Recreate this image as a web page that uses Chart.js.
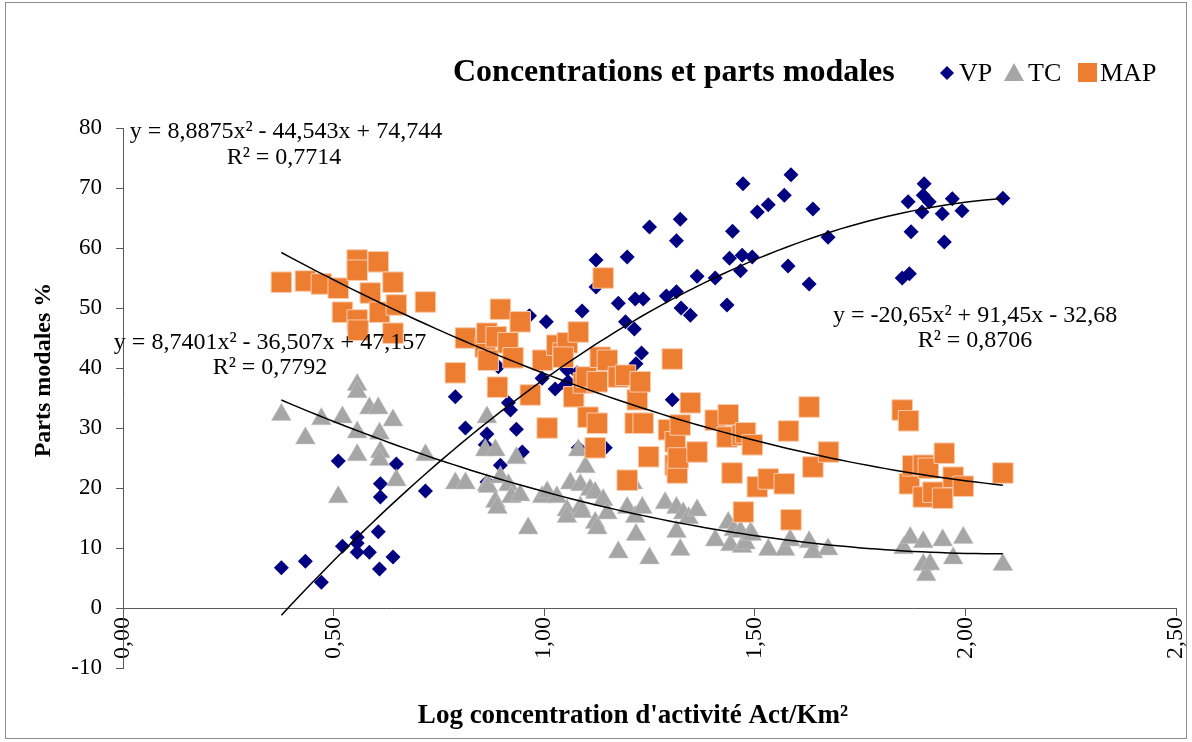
<!DOCTYPE html>
<html>
<head>
<meta charset="utf-8">
<title>Concentrations et parts modales</title>
<script src="https://cdn.jsdelivr.net/npm/chart.js@4.4.1/dist/chart.umd.min.js"></script>
<style>
  body { margin: 0; background: #fff; }
  #wrap { width: 1192px; height: 742px; }
</style>
</head>
<body>
<div id="wrap"><canvas id="chart" width="1192" height="742"></canvas></div>
<script>
// log concentration (x) and modal share in % (y)
const vpX = [0.376, 0.433, 0.471, 0.521, 0.511, 0.556, 0.556, 0.556, 0.585, 0.606, 0.609, 0.641, 0.611, 0.611, 0.649, 0.718,
  0.789, 0.813, 0.864, 0.860, 0.864, 0.896, 0.891, 0.915, 0.920, 0.934, 0.948, 0.965, 0.995, 1.005, 1.026, 1.050,
  1.054, 1.057, 1.078, 1.081, 1.090, 1.110, 1.123, 1.123, 1.140, 1.145, 1.176, 1.193, 1.197, 1.214, 1.216, 1.218,
  1.231, 1.235, 1.250, 1.290, 1.304, 1.314, 1.314, 1.323, 1.325, 1.347, 1.363, 1.406, 1.434, 1.440, 1.447, 1.466,
  1.470, 1.472, 1.494, 1.506, 1.532, 1.570, 1.579, 1.586, 1.629, 1.638, 1.674, 1.850, 1.867, 1.864, 1.871, 1.897,
  1.900, 1.902, 1.914, 1.945, 1.950, 1.969, 1.992, 2.089];
const vpY = [6.7, 7.8, 4.3, 10.3, 24.5, 11.8, 10.8, 9.3, 9.3, 12.7, 6.5, 8.5, 20.7, 18.5, 24, 19.5,
  35.2, 30, 29, 27.2, 21, 23.8, 40.2, 34.2, 33, 29.8, 26, 48.7, 38.3, 47.7, 36.5, 37.2,
  39.7, 37.7, 39.2, 26.7, 49.5, 38.5, 53.5, 58, 38.8, 26.7, 50.8, 47.7, 58.5, 46.5, 51.5, 40.7,
  42.5, 51.5, 63.5, 52, 34.7, 52.7, 61.2, 64.8, 50, 48.8, 55.3, 55, 50.5, 58.3, 62.8, 56.2,
  58.8, 70.7, 58.5, 66, 67.2, 68.8, 57, 72.2, 54, 66.5, 61.8, 55, 55.7, 67.7, 62.7, 66,
  68.8, 70.7, 67.7, 65.7, 61, 68.2, 66.2, 68.3];

const tcX = [0.376, 0.433, 0.471, 0.511, 0.521, 0.556, 0.556, 0.556, 0.556, 0.585, 0.606, 0.609, 0.611, 0.609, 0.641, 0.649,
  0.718, 0.789, 0.813, 0.860, 0.864, 0.864, 0.867, 0.884, 0.884, 0.889, 0.896, 0.915, 0.922, 0.934, 0.943, 0.962,
  0.995, 1.007, 1.030, 1.054, 1.054, 1.062, 1.081, 1.086, 1.086, 1.090, 1.098, 1.109, 1.121, 1.121, 1.126, 1.140,
  1.150, 1.176, 1.197, 1.210, 1.216, 1.218, 1.233, 1.250, 1.287, 1.314, 1.314, 1.316, 1.323, 1.330, 1.343, 1.363,
  1.406, 1.437, 1.442, 1.450, 1.466, 1.470, 1.478, 1.490, 1.493, 1.532, 1.572, 1.584, 1.629, 1.638, 1.674, 1.853,
  1.869, 1.900, 1.900, 1.907, 1.916, 1.946, 1.971, 1.995, 2.089];
const tcY = [32.2, 28.3, 31.5, 18.5, 31.8, 37.2, 36, 29.3, 25.5, 33.3, 33.3, 29.1, 26, 24.7, 31.3, 21.3,
  25.5, 20.8, 20.8, 26.3, 31.8, 20.5, 20.2, 26.3, 17.7, 16.7, 21.8, 20.5, 18.5, 25, 18.8, 13.3,
  18.5, 19.3, 18.5, 16.3, 15.2, 20.8, 26.3, 20.5, 16.8, 16, 23.5, 19.7, 19.2, 14.2, 13.3, 18,
  15.8, 9.3, 16.7, 20.8, 15.2, 12.2, 16.7, 8.3, 17.5, 16.7, 12.7, 23, 9.7, 15.8, 15, 16.3,
  11.3, 14.2, 10.5, 13, 12.7, 10.2, 10.8, 12.5, 12.2, 9.7, 9.7, 11.3, 11, 9.3, 9.8, 10,
  11.7, 11, 7.2, 5.5, 7.3, 11.3, 8.3, 11.7, 7.2];

const mapX = [0.376, 0.433, 0.471, 0.511, 0.521, 0.556, 0.556, 0.556, 0.558, 0.587, 0.606, 0.609, 0.641, 0.641, 0.649, 0.718,
  0.789, 0.813, 0.860, 0.864, 0.867, 0.886, 0.889, 0.896, 0.914, 0.926, 0.943, 0.967, 0.996, 1.007, 1.030, 1.045,
  1.055, 1.045, 1.070, 1.081, 1.093, 1.100, 1.104, 1.121, 1.126, 1.126, 1.133, 1.140, 1.150, 1.176, 1.193, 1.197,
  1.221, 1.216, 1.228, 1.235, 1.248, 1.295, 1.304, 1.311, 1.311, 1.316, 1.318, 1.323, 1.347, 1.363, 1.406, 1.434,
  1.437, 1.446, 1.470, 1.473, 1.478, 1.494, 1.506, 1.532, 1.570, 1.580, 1.586, 1.629, 1.638, 1.675, 1.850, 1.865,
  1.867, 1.875, 1.900, 1.900, 1.912, 1.923, 1.946, 1.950, 1.971, 1.995, 2.089];
const mapY = [54.3, 54.5, 54, 53.3, 49.3, 58, 56.3, 48, 46.3, 52.5, 57.7, 49.3, 54.3, 45.8, 50.5, 51,
  39.2, 45, 43.5, 45.8, 41.3, 45.2, 36.8, 49.8, 44.2, 41.7, 47.7, 35.5, 41.3, 30, 43.8, 42.5,
  44.2, 41.8, 35.2, 46, 37.5, 38.5, 31.8, 26.7, 37.7, 30.8, 41.8, 55, 41.3, 38.5, 38.8, 21.3,
  34.7, 30.8, 37.7, 30.8, 25.2, 29.7, 41.5, 27.7, 23.8, 22.5, 25, 30.5, 34.2, 26, 31.3, 28.5,
  32.2, 22.5, 28.8, 16, 29.2, 27.2, 20.2, 21.5, 20.7, 29.5, 14.7, 33.5, 23.5, 26, 33, 31.2,
  20.7, 23.7, 23.8, 18.5, 23.3, 19.3, 18.3, 25.8, 21.8, 20.3, 22.5];

// polynomial trend lines as printed on the chart [a, b, c] for a*x^2 + b*x + c
const vpFit = [-20.65, 91.45, -32.68];
const tcFit = [8.7401, -36.507, 47.157];
const mapFit = [8.8875, -44.543, 74.744];

const xTicks = [0, 0.5, 1, 1.5, 2, 2.5];

const SERIF = '"Liberation Serif", "Times New Roman", serif';
const NAVY = '#000080';
const GREY = '#A6A6A6';
const ORANGE = '#ED7D31';

function toPoints(xs, ys) {
  return xs.map((x, i) => ({ x: x, y: ys[i] }));
}

function fitLine(xs, c) {
  const lo = Math.min(...xs), hi = Math.max(...xs);
  const pts = [];
  for (let i = 0; i <= 80; i++) {
    const x = lo + (hi - lo) * i / 80;
    pts.push({ x: x, y: c[0] * x * x + c[1] * x + c[2] });
  }
  return pts;
}

function trend(xs, c) {
  return {
    type: 'line', data: fitLine(xs, c), showLine: true, borderColor: '#000', borderWidth: 1.5,
    pointRadius: 0, fill: false, order: 0, label: ''
  };
}

// title, legend, equations, axis titles and the outer frame
const decor = {
  id: 'decor',
  afterDraw(chart) {
    const ctx = chart.ctx;
    ctx.save();
    ctx.fillStyle = '#000';
    ctx.textBaseline = 'middle';

    ctx.font = 'bold 32px ' + SERIF;
    ctx.textAlign = 'left';
    ctx.fillText('Concentrations et parts modales', 453, 73);

    // legend
    ctx.fillStyle = NAVY;
    ctx.beginPath();
    ctx.moveTo(947, 66); ctx.lineTo(954, 73); ctx.lineTo(947, 80); ctx.lineTo(940, 73);
    ctx.closePath(); ctx.fill();
    ctx.fillStyle = GREY;
    ctx.beginPath();
    ctx.moveTo(1014, 63); ctx.lineTo(1024, 81); ctx.lineTo(1004, 81);
    ctx.closePath(); ctx.fill();
    ctx.fillStyle = ORANGE;
    ctx.fillRect(1078, 63, 19, 19);
    ctx.fillStyle = '#000';
    ctx.font = '26px ' + SERIF;
    ctx.fillText('VP', 959, 74);
    ctx.fillText('TC', 1028, 74);
    ctx.fillText('MAP', 1100, 74);

    // equations
    ctx.font = '24px ' + SERIF;
    ctx.textAlign = 'center';
    ctx.fillText('y = 8,8875x\u00B2 - 44,543x + 74,744', 286, 132);
    ctx.fillText('R\u00B2 = 0,7714', 284, 158);
    ctx.fillText('y = 8,7401x\u00B2 - 36,507x + 47,157', 270, 343);
    ctx.fillText('R\u00B2 = 0,7792', 270, 368);
    ctx.fillText('y = -20,65x\u00B2 + 91,45x - 32,68', 975, 316);
    ctx.fillText('R\u00B2 = 0,8706', 975, 341);

    // axis titles
    ctx.font = 'bold 27px ' + SERIF;
    ctx.fillText("Log concentration d'activit\u00E9 Act/Km\u00B2", 633, 716);
    ctx.font = 'bold 24px ' + SERIF;
    ctx.translate(44, 370);
    ctx.rotate(-Math.PI / 2);
    ctx.fillText('Parts modales %', 0, 0);
    ctx.restore();

    ctx.save();
    ctx.strokeStyle = '#8c8c8c';
    ctx.lineWidth = 1;
    ctx.strokeRect(5.5, 2.5, 1181, 736);
    ctx.restore();
  }
};

new Chart('chart', {
  type: 'scatter',
  data: {
    datasets: [
      { label: 'VP', data: toPoints(vpX, vpY), pointStyle: 'rectRot', pointRadius: 7.5, pointHoverRadius: 7.5,
        backgroundColor: NAVY, borderColor: NAVY, borderWidth: 0, order: 3 },
      { label: 'TC', data: toPoints(tcX, tcY), pointStyle: 'triangle', pointRadius: 11.5, pointHoverRadius: 11.5,
        backgroundColor: GREY, borderColor: '#c8c8c8', borderWidth: 0.5, order: 2 },
      { label: 'MAP', data: toPoints(mapX, mapY), pointStyle: 'rect', pointRadius: 14.5, pointHoverRadius: 14.5,
        backgroundColor: ORANGE, borderColor: '#F8CBAD', borderWidth: 1, order: 1 },
      trend(vpX, vpFit),
      trend(tcX, tcFit),
      trend(mapX, mapFit)
    ]
  },
  options: {
    responsive: false,
    devicePixelRatio: 1,
    animation: false,
    layout: { padding: { left: 0, right: 16, top: 128, bottom: 74 } },
    plugins: {
      legend: { display: false },
      title: { display: false },
      tooltip: { enabled: false }
    },
    scales: {
      x: {
        type: 'linear',
        position: { y: 0 },
        min: 0, max: 2.5,
        afterBuildTicks: (scale) => { scale.ticks = xTicks.map(v => ({ value: v })); },
        afterFit: (scale) => { scale.paddingLeft = 0; scale.paddingRight = 0; },
        grid: { drawOnChartArea: false, tickLength: 7, color: '#595959' },
        border: { color: '#595959', width: 1 },
        ticks: {
          minRotation: 90, maxRotation: 90, padding: 2, color: '#000',
          font: { family: SERIF, size: 24 },
          callback: (v) => Number(v).toFixed(2).replace('.', ',')
        }
      },
      y: {
        min: -10, max: 80,
        afterFit: (scale) => { scale.width = 123; },
        grid: { drawOnChartArea: false, tickLength: 7, color: '#595959' },
        border: { color: '#595959', width: 1 },
        ticks: { stepSize: 10, padding: 14, color: '#000', font: { family: SERIF, size: 23 } }
      }
    }
  },
  plugins: [decor]
});
</script>
</body>
</html>
